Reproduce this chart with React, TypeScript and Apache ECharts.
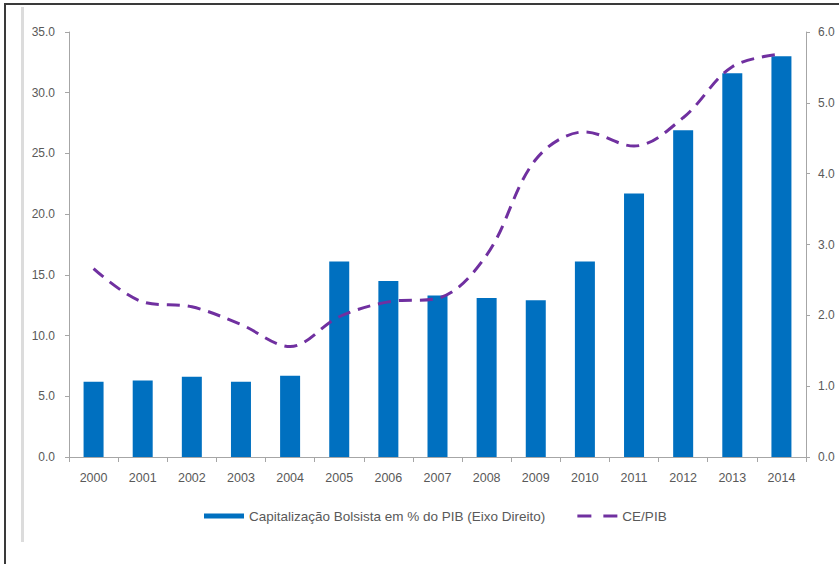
import React, { useEffect, useRef } from "react";
import * as echarts from "echarts";

const years = ["2000","2001","2002","2003","2004","2005","2006","2007","2008","2009","2010","2011","2012","2013","2014"];
const capBolsista = [6.2, 6.3, 6.6, 6.2, 6.7, 16.1, 14.5, 13.3, 13.1, 12.9, 16.1, 21.7, 26.9, 31.6, 33.0];
const cePib = [2.66, 2.19, 2.12, 1.87, 1.56, 1.98, 2.19, 2.24, 2.85, 4.2, 4.59, 4.39, 4.79, 5.51, 5.69];
const leftTicks = { min: 0, max: 35, interval: 5 };
const rightTicks = { min: 0, max: 6, interval: 1 };
const barName = "Capitalização Bolsista em % do PIB (Eixo Direito)";
const lineName = "CE/PIB";

const FONT = "Liberation Sans, Arial, sans-serif";
const TXT = "#595959";
const AX = "#a6a6a6";

export default function App() {
  const ref = useRef<HTMLDivElement>(null);
  useEffect(() => {
    if (!ref.current) return;
    const chart = echarts.init(ref.current, null, { renderer: "svg" });
    chart.setOption({
      animation: false,
      backgroundColor: "#ffffff",
      textStyle: { fontFamily: FONT },
      grid: { left: 69, right: 33, top: 32, bottom: 107, containLabel: false },
      legend: {
        bottom: 36,
        left: 199,
        itemWidth: 40,
        itemHeight: 5,
        itemGap: 32,
        textStyle: { color: TXT, fontSize: 13.5, fontFamily: FONT },
        data: [
          { name: barName, icon: "rect" },
          { name: lineName, icon: "path://M0,0H14V3H0Z M26,0H40V3H26Z" },
        ],
      },
      xAxis: {
        type: "category",
        data: years,
        axisLine: { lineStyle: { color: AX, width: 1 } },
        axisTick: { show: true, length: 5, lineStyle: { color: AX }, alignWithLabel: false },
        axisLabel: { color: TXT, fontSize: 12.5, margin: 14, fontFamily: FONT },
      },
      yAxis: [
        {
          type: "value",
          ...leftTicks,
          position: "left",
          axisLine: { show: true, lineStyle: { color: AX } },
          axisTick: { show: true, length: 4, lineStyle: { color: AX } },
          splitLine: { show: false },
          axisLabel: { color: TXT, fontSize: 12, margin: 14, formatter: (v: number) => v.toFixed(1), fontFamily: FONT },
        },
        {
          type: "value",
          ...rightTicks,
          position: "right",
          axisLine: { show: true, lineStyle: { color: AX } },
          axisTick: { show: true, length: 4, lineStyle: { color: AX } },
          splitLine: { show: false },
          axisLabel: { color: TXT, fontSize: 12, margin: 12, formatter: (v: number) => v.toFixed(1), fontFamily: FONT },
        },
      ],
      series: [
        {
          name: barName,
          type: "bar",
          yAxisIndex: 0,
          data: capBolsista,
          barWidth: 20,
          itemStyle: { color: "#0070C0" },
        },
        {
          name: lineName,
          type: "line",
          yAxisIndex: 1,
          data: cePib,
          smooth: 0.35,
          symbol: "none",
          lineStyle: { color: "#7030A0", width: 3, type: [13, 8], cap: "butt" },
          itemStyle: { color: "#7030A0" },
        },
      ],
      graphic: [
        { type: "rect", shape: { x: 21, y: 7, width: 3, height: 535 }, style: { fill: "#dcdcdc" }, silent: true },
        { type: "line", shape: { x1: 5, y1: 4, x2: 839, y2: 4 }, style: { stroke: "#3a3a3a", lineWidth: 2 }, silent: true },
        { type: "line", shape: { x1: 5, y1: 3, x2: 5, y2: 564 }, style: { stroke: "#3a3a3a", lineWidth: 2 }, silent: true },
      ],
    });
    return () => chart.dispose();
  }, []);
  return (
    <div
      ref={ref}
      style={{ position: "absolute", left: 0, top: 0, width: 839, height: 564, background: "#fff" }}
    />
  );
}
